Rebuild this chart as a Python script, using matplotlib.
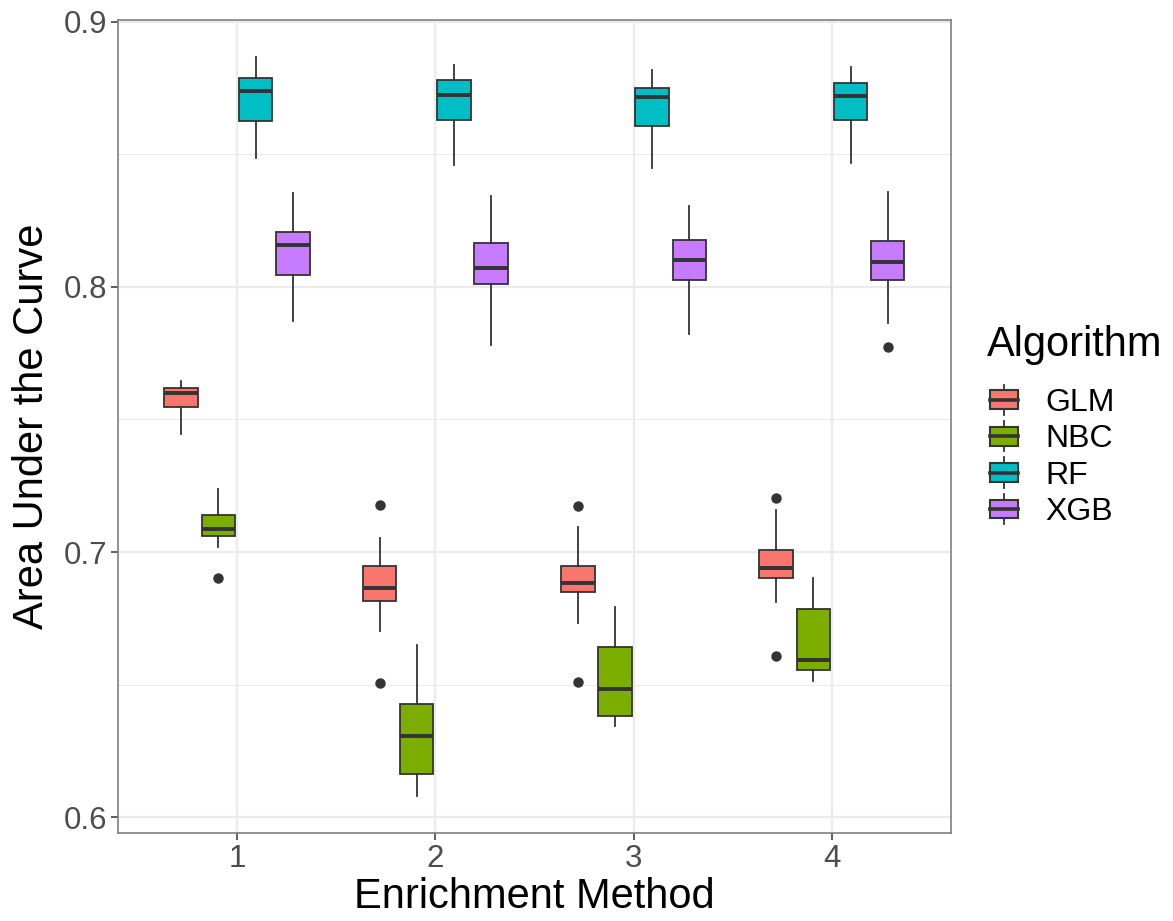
import matplotlib
matplotlib.use("Agg")
import matplotlib.pyplot as plt
from matplotlib.legend_handler import HandlerBase
from matplotlib.patches import Rectangle, Patch
from matplotlib.lines import Line2D

plt.rcParams['font.family'] = ['Liberation Sans', 'DejaVu Sans']

methods = [1, 2, 3, 4]
algorithms = ["GLM", "NBC", "RF", "XGB"]
colors = ["#F8766D", "#7CAE00", "#00BFC4", "#C77CFF"]

# five-number summaries per enrichment method: whisker low, q1, median, q3, whisker high
glm_stats = [
    [0.7446, 0.7546, 0.7599, 0.7619, 0.7644],
    [0.6702, 0.6815, 0.6864, 0.6946, 0.7052],
    [0.6733, 0.6849, 0.6883, 0.6947, 0.7094],
    [0.6811, 0.6903, 0.6941, 0.7009, 0.7159],
]
glm_outliers = [[], [0.7177, 0.6507], [0.7173, 0.6512], [0.7203, 0.6607]]

nbc_stats = [
    [0.7018, 0.7060, 0.7088, 0.7139, 0.7239],
    [0.6079, 0.6164, 0.6305, 0.6426, 0.6648],
    [0.6343, 0.6384, 0.6485, 0.6641, 0.6792],
    [0.6513, 0.6556, 0.6595, 0.6786, 0.6902],
]
nbc_outliers = [[0.6902], [], [], []]

rf_stats = [
    [0.8485, 0.8627, 0.8740, 0.8788, 0.8868],
    [0.8460, 0.8629, 0.8722, 0.8778, 0.8835],
    [0.8447, 0.8605, 0.8715, 0.8750, 0.8818],
    [0.8466, 0.8629, 0.8718, 0.8769, 0.8830],
]
rf_outliers = [[], [], [], []]

xgb_stats = [
    [0.7873, 0.8045, 0.8158, 0.8208, 0.8353],
    [0.7781, 0.8011, 0.8072, 0.8167, 0.8344],
    [0.7823, 0.8024, 0.8102, 0.8175, 0.8304],
    [0.7865, 0.8024, 0.8095, 0.8171, 0.8357],
]
xgb_outliers = [[], [], [], [0.7775]]

all_stats = [glm_stats, nbc_stats, rf_stats, xgb_stats]
all_outliers = [glm_outliers, nbc_outliers, rf_outliers, xgb_outliers]

EDGE = "#333333"
slot = 0.75 / len(algorithms)
box_w = slot * 0.9


class BoxKey(HandlerBase):
    # legend key drawn like a small boxplot
    def create_artists(self, legend, orig_handle, xdescent, ydescent,
                       width, height, fontsize, trans):
        x0, y0 = -xdescent, -ydescent
        cx = x0 + width / 2
        fc = orig_handle.get_facecolor()
        top = y0 + height * 0.9
        bot = y0 + height * 0.1
        lo = Line2D([cx, cx], [y0 - height * 0.15, bot], color=EDGE, lw=1.3, transform=trans)
        hi = Line2D([cx, cx], [top, y0 + height * 1.15], color=EDGE, lw=1.3, transform=trans)
        rect = Rectangle((x0, bot), width, top - bot, facecolor=fc,
                         edgecolor=EDGE, lw=1.5, transform=trans)
        med = Line2D([x0, x0 + width], [(top + bot) / 2] * 2, color=EDGE, lw=2.6, transform=trans)
        return [lo, hi, rect, med]


fig = plt.figure(figsize=(11.73, 9.21), dpi=100)
ax = fig.add_axes([0.1006, 0.0955, 0.7101, 0.8828])

for k, (stats, outs) in enumerate(zip(all_stats, all_outliers)):
    bxp_stats = []
    for s, o in zip(stats, outs):
        bxp_stats.append({"whislo": s[0], "q1": s[1], "med": s[2], "q3": s[3],
                          "whishi": s[4], "fliers": o})
    offset = (k - (len(algorithms) - 1) / 2) * slot
    pos = [m + offset for m in methods]
    ax.bxp(bxp_stats, positions=pos, widths=box_w, patch_artist=True,
           showcaps=False, manage_ticks=False,
           boxprops=dict(facecolor=colors[k], edgecolor=EDGE, linewidth=1.3),
           medianprops=dict(color=EDGE, linewidth=2.8, solid_capstyle="butt"),
           whiskerprops=dict(color=EDGE, linewidth=1.3),
           flierprops=dict(marker="o", markerfacecolor=EDGE, markeredgecolor=EDGE,
                           markersize=6.5, linestyle="none"),
           zorder=3)

ax.set_xlim(0.4, 4.6)
ax.set_ylim(0.5941, 0.9006)
ax.set_xticks(methods)
ax.set_xticklabels([str(m) for m in methods])
ax.set_yticks([0.6, 0.7, 0.8, 0.9])
ax.set_yticklabels(["0.6", "0.7", "0.8", "0.9"])
ax.set_yticks([0.65, 0.75, 0.85], minor=True)

ax.grid(True, which="major", color="#EBEBEB", linewidth=1.6, zorder=0)
ax.grid(True, which="minor", axis="y", color="#EBEBEB", linewidth=0.8, zorder=0)
ax.set_axisbelow(True)
for sp in ax.spines.values():
    sp.set_color("#7F7F7F")
    sp.set_linewidth(1.2)
ax.tick_params(axis="both", which="major", length=5, width=1.1, color="#333333",
               labelsize=22.5, labelcolor="#4D4D4D", pad=3)
ax.tick_params(axis="y", which="minor", length=0)

ax.set_xlabel("Enrichment Method", fontsize=30, color="black", labelpad=2)
ax.set_ylabel("Area Under the Curve", fontsize=30, color="black", labelpad=8)

fig.text(987 / 1173, 1 - 356 / 921, "Algorithm", fontsize=30, ha="left", va="baseline")
handles = [Patch(facecolor=c, edgecolor=EDGE) for c in colors]
leg = fig.legend(handles, algorithms, loc="upper left", bbox_to_anchor=(990 / 1173, 1 - 388 / 921),
                 frameon=False, fontsize=23, handler_map={Patch: BoxKey()},
                 handlelength=0.875, handleheight=0.75, handletextpad=0.85,
                 labelspacing=0.2, borderpad=0, borderaxespad=0)

fig.savefig("out.png", dpi=100)
